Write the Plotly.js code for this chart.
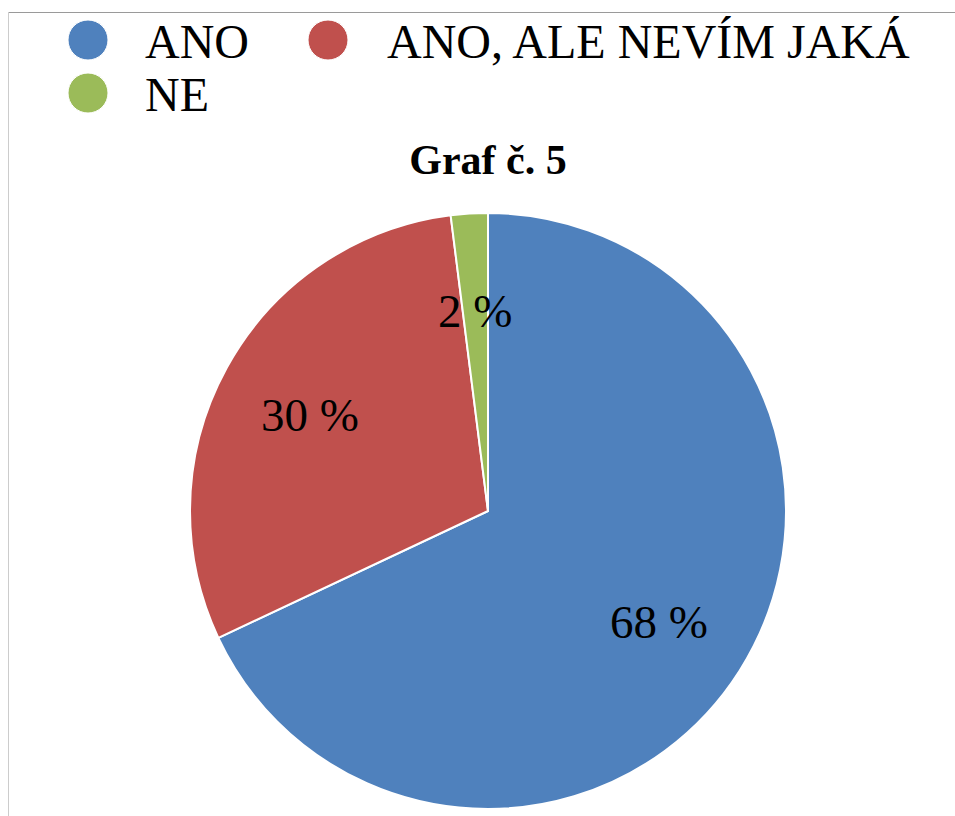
<!DOCTYPE html>
<html>
<head>
<meta charset="utf-8">
<script src="https://cdn.plot.ly/plotly-3.0.1.min.js"></script>
<style>
html,body{margin:0;padding:0;background:#fff;}
#chart{width:955px;height:816px;}
</style>
</head>
<body>
<div id="chart"></div>
<script>
// Data
const categories = ["ANO", "ANO, ALE NEVÍM JAKÁ", "NE"];
const values = [68, 30, 2];
const labelsText = ["68 %", "30 %", "2 %"];
const colors = ["#4F81BD", "#C0504D", "#9BBB59"];

const W = 955, H = 816;
const serif = "Liberation Serif";

// Pie geometry (layout)
const cx = 488, cy = 511, R = 298;
const dom = {
  x: [(cx - R) / W, (cx + R) / W],
  y: [(H - cy - R) / H, (H - cy + R) / H]
};

const pie = {
  type: "pie",
  labels: categories,
  values: values,
  sort: false,
  direction: "clockwise",
  rotation: 0,
  marker: {colors: colors, line: {color: "#ffffff", width: 2}},
  textinfo: "none",
  hoverinfo: "label+percent",
  showlegend: false,
  domain: dom
};

// Data labels at ~2/3 radius on slice mid-angle (computed from values)
const total = values.reduce((a, b) => a + b, 0);
let cum = 0;
const annotations = [];
values.forEach((v, i) => {
  const mid = (cum + v / 2) / total * 2 * Math.PI;
  cum += v;
  const px = cx + 0.68 * R * Math.sin(mid);
  const py = cy - 0.68 * R * Math.cos(mid) + 2;
  annotations.push({
    xref: "paper", yref: "paper",
    x: px / W, y: 1 - py / H,
    text: labelsText[i], showarrow: false,
    xanchor: "center", yanchor: "middle",
    font: {family: serif, size: 47, color: "#000"}
  });
});

// Manual legend (circle markers)
const legendPos = [[88, 143, 40], [328, 385, 40], [88, 143, 93]];
const shapes = [];
categories.forEach((c, i) => {
  const [mx, tx, my] = legendPos[i];
  const r = 20;
  shapes.push({
    type: "circle", xref: "paper", yref: "paper",
    x0: (mx - r) / W, x1: (mx + r) / W,
    y0: 1 - (my + r) / H, y1: 1 - (my - r) / H,
    fillcolor: colors[i], line: {color: "#ffffff", width: 1}
  });
  annotations.push({
    xref: "paper", yref: "paper",
    x: tx / W, y: 1 - (my + 1) / H,
    text: c, showarrow: false,
    xanchor: "left", yanchor: "middle",
    font: {family: serif, size: 48, color: "#000"}
  });
});

// Frame lines
shapes.push({type: "line", xref: "paper", yref: "paper",
  x0: 8 / W, x1: 1, y0: 1 - 12.5 / H, y1: 1 - 12.5 / H,
  line: {color: "#9a9a9a", width: 1}, layer: "below"});
shapes.push({type: "line", xref: "paper", yref: "paper",
  x0: 8.5 / W, x1: 8.5 / W, y0: 0, y1: 1 - 12 / H,
  line: {color: "#cccccc", width: 1}, layer: "below"});

const layout = {
  width: W, height: H,
  margin: {l: 0, r: 0, t: 0, b: 0},
  paper_bgcolor: "#ffffff",
  showlegend: false,
  title: {
    text: "<b>Graf č. 5</b>",
    font: {family: serif, size: 42, color: "#000"},
    x: 488 / W, xanchor: "center", xref: "paper",
    y: 1 - 159 / H, yanchor: "middle", yref: "container"
  },
  annotations: annotations,
  shapes: shapes
};

Plotly.newPlot("chart", [pie], layout, {displayModeBar: false, staticPlot: true});
</script>
</body>
</html>
